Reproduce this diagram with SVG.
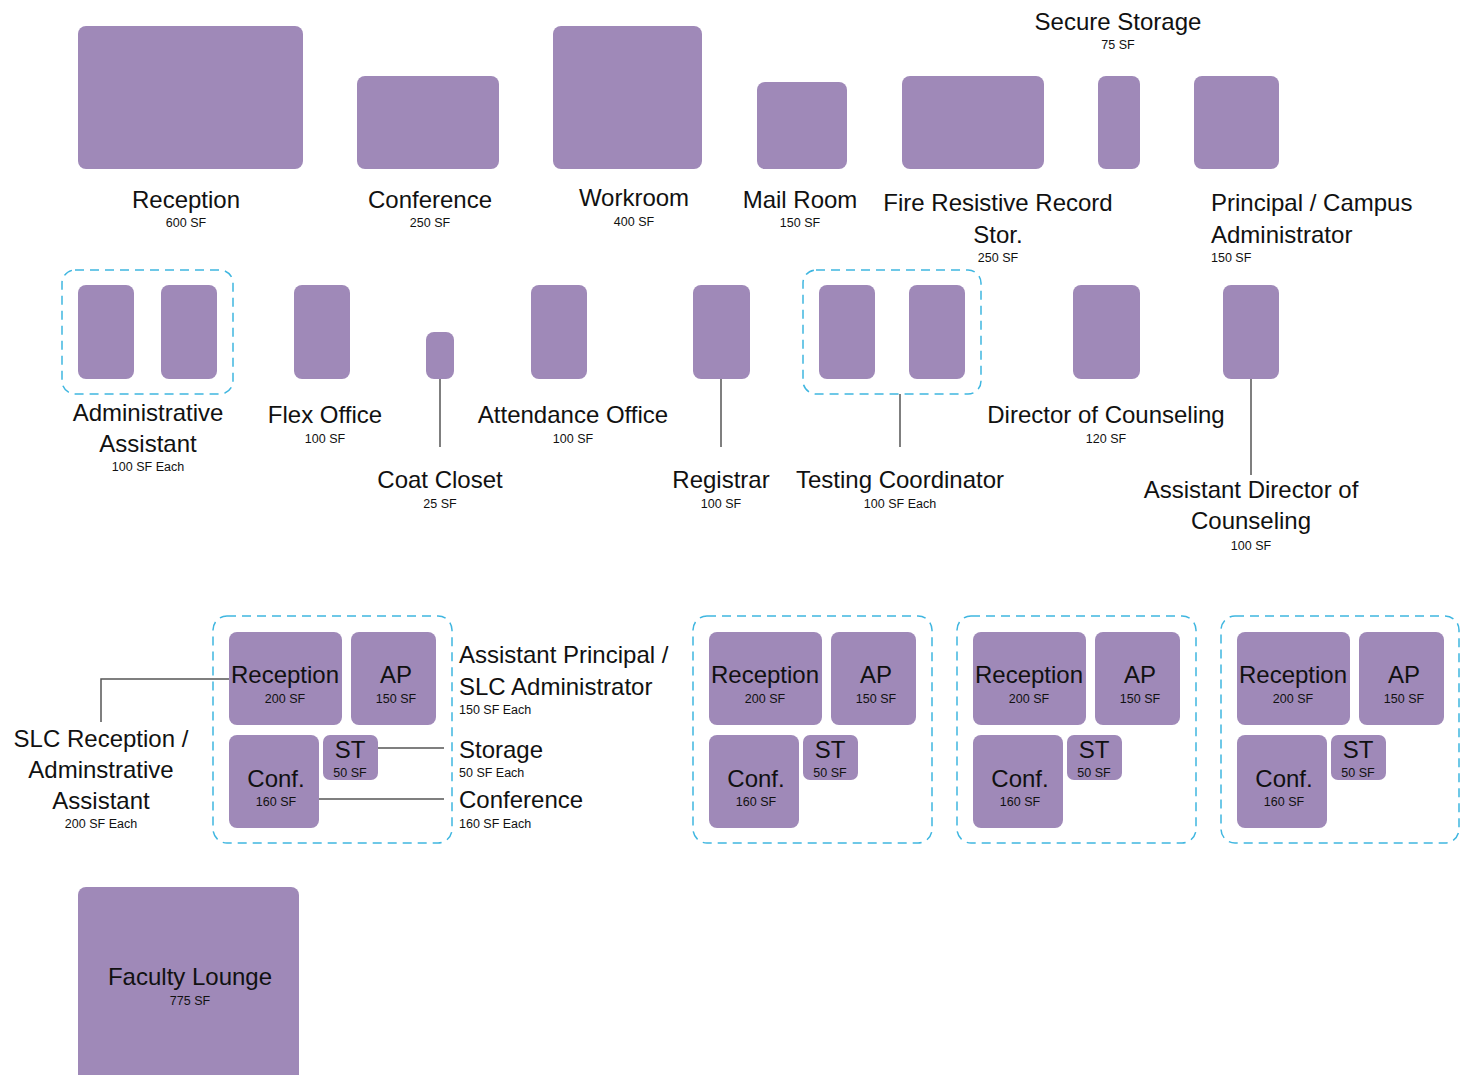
<svg xmlns="http://www.w3.org/2000/svg" width="1460" height="1075" viewBox="0 0 1460 1075">
<style>
.r{fill:#9F89B8;}
.grp{fill:none;stroke:#3FB6E0;stroke-width:1.5;stroke-dasharray:9 6;}
.t{font-family:"Liberation Sans",Arial,sans-serif;font-size:24px;fill:#111;}
.s{font-family:"Liberation Sans",Arial,sans-serif;font-size:12.5px;fill:#111;}
.m{text-anchor:middle;}
.c{fill:none;stroke:#555;stroke-width:1.5;}
</style>
<rect width="1460" height="1075" fill="#fff"/>

<g id="reception">
<rect class="r" x="78" y="26" width="225" height="143" rx="8"/>
<text class="t m" x="186" y="208">Reception</text>
<text class="s m" x="186" y="227">600 SF</text>
</g>
<g id="conference">
<rect class="r" x="357" y="76" width="142" height="93" rx="8"/>
<text class="t m" x="430" y="208">Conference</text>
<text class="s m" x="430" y="227">250 SF</text>
</g>
<g id="workroom">
<rect class="r" x="553" y="26" width="149" height="143" rx="8"/>
<text class="t m" x="634" y="206">Workroom</text>
<text class="s m" x="634" y="226">400 SF</text>
</g>
<g id="mailroom">
<rect class="r" x="757" y="82" width="90" height="87" rx="8"/>
<text class="t m" x="800" y="208">Mail Room</text>
<text class="s m" x="800" y="227">150 SF</text>
</g>
<g id="fire-records">
<rect class="r" x="902" y="76" width="142" height="93" rx="8"/>
<text class="t m" x="998" y="211">Fire Resistive Record</text>
<text class="t m" x="998" y="243">Stor.</text>
<text class="s m" x="998" y="262">250 SF</text>
</g>
<g id="secure-storage">
<rect class="r" x="1098" y="76" width="42" height="93" rx="8"/>
<text class="t m" x="1118" y="30">Secure Storage</text>
<text class="s m" x="1118" y="49">75 SF</text>
</g>
<g id="principal">
<rect class="r" x="1194" y="76" width="85" height="93" rx="8"/>
<text class="t" x="1211" y="211">Principal / Campus</text>
<text class="t" x="1211" y="243">Administrator</text>
<text class="s" x="1211" y="262">150 SF</text>
</g>

<g id="admin-assistant">
<rect class="grp" x="62" y="270" width="171" height="124" rx="13"/>
<rect class="r" x="78" y="285" width="56" height="94" rx="8"/>
<rect class="r" x="161" y="285" width="56" height="94" rx="8"/>
<text class="t m" x="148" y="421">Administrative</text>
<text class="t m" x="148" y="452">Assistant</text>
<text class="s m" x="148" y="471">100 SF Each</text>
</g>
<g id="flex-office">
<rect class="r" x="294" y="285" width="56" height="94" rx="8"/>
<text class="t m" x="325" y="423">Flex Office</text>
<text class="s m" x="325" y="443">100 SF</text>
</g>
<g id="coat-closet">
<rect class="r" x="426" y="332" width="28" height="47" rx="8"/>
<text class="t m" x="440" y="488">Coat Closet</text>
<text class="s m" x="440" y="508">25 SF</text>
</g>
<g id="attendance">
<rect class="r" x="531" y="285" width="56" height="94" rx="8"/>
<text class="t m" x="573" y="423">Attendance Office</text>
<text class="s m" x="573" y="443">100 SF</text>
</g>
<g id="registrar">
<rect class="r" x="693" y="285" width="57" height="94" rx="8"/>
<text class="t m" x="721" y="488">Registrar</text>
<text class="s m" x="721" y="508">100 SF</text>
</g>
<g id="testing">
<rect class="grp" x="803" y="270" width="178" height="124" rx="13"/>
<rect class="r" x="819" y="285" width="56" height="94" rx="8"/>
<rect class="r" x="909" y="285" width="56" height="94" rx="8"/>
<text class="t m" x="900" y="488">Testing Coordinator</text>
<text class="s m" x="900" y="508">100 SF Each</text>
</g>
<g id="director-counseling">
<rect class="r" x="1073" y="285" width="67" height="94" rx="8"/>
<text class="t m" x="1106" y="423">Director of Counseling</text>
<text class="s m" x="1106" y="443">120 SF</text>
</g>
<g id="asst-director">
<rect class="r" x="1223" y="285" width="56" height="94" rx="8"/>
<text class="t m" x="1251" y="498">Assistant Director of</text>
<text class="t m" x="1251" y="529">Counseling</text>
<text class="s m" x="1251" y="550">100 SF</text>
</g>

<g id="slc-1">
<rect class="grp" x="213" y="616" width="239" height="227" rx="14"/>
<rect class="r" x="229" y="632" width="113" height="93" rx="8"/>
<rect class="r" x="351" y="632" width="85" height="93" rx="8"/>
<rect class="r" x="229" y="735" width="90" height="93" rx="8"/>
<rect class="r" x="323" y="735" width="55" height="45" rx="7"/>
<text class="t m" x="285" y="683">Reception</text>
<text class="s m" x="285" y="703">200 SF</text>
<text class="t m" x="396" y="683">AP</text>
<text class="s m" x="396" y="703">150 SF</text>
<text class="t m" x="276" y="787">Conf.</text>
<text class="s m" x="276" y="806">160 SF</text>
<text class="t m" x="350" y="758">ST</text>
<text class="s m" x="350" y="777">50 SF</text>
</g>
<g id="slc-2">
<rect class="grp" x="693" y="616" width="239" height="227" rx="14"/>
<rect class="r" x="709" y="632" width="113" height="93" rx="8"/>
<rect class="r" x="831" y="632" width="85" height="93" rx="8"/>
<rect class="r" x="709" y="735" width="90" height="93" rx="8"/>
<rect class="r" x="803" y="735" width="55" height="45" rx="7"/>
<text class="t m" x="765" y="683">Reception</text>
<text class="s m" x="765" y="703">200 SF</text>
<text class="t m" x="876" y="683">AP</text>
<text class="s m" x="876" y="703">150 SF</text>
<text class="t m" x="756" y="787">Conf.</text>
<text class="s m" x="756" y="806">160 SF</text>
<text class="t m" x="830" y="758">ST</text>
<text class="s m" x="830" y="777">50 SF</text>
</g>
<g id="slc-3">
<rect class="grp" x="957" y="616" width="239" height="227" rx="14"/>
<rect class="r" x="973" y="632" width="113" height="93" rx="8"/>
<rect class="r" x="1095" y="632" width="85" height="93" rx="8"/>
<rect class="r" x="973" y="735" width="90" height="93" rx="8"/>
<rect class="r" x="1067" y="735" width="55" height="45" rx="7"/>
<text class="t m" x="1029" y="683">Reception</text>
<text class="s m" x="1029" y="703">200 SF</text>
<text class="t m" x="1140" y="683">AP</text>
<text class="s m" x="1140" y="703">150 SF</text>
<text class="t m" x="1020" y="787">Conf.</text>
<text class="s m" x="1020" y="806">160 SF</text>
<text class="t m" x="1094" y="758">ST</text>
<text class="s m" x="1094" y="777">50 SF</text>
</g>
<g id="slc-4">
<rect class="grp" x="1221" y="616" width="238" height="227" rx="14"/>
<rect class="r" x="1237" y="632" width="113" height="93" rx="8"/>
<rect class="r" x="1359" y="632" width="85" height="93" rx="8"/>
<rect class="r" x="1237" y="735" width="90" height="93" rx="8"/>
<rect class="r" x="1331" y="735" width="55" height="45" rx="7"/>
<text class="t m" x="1293" y="683">Reception</text>
<text class="s m" x="1293" y="703">200 SF</text>
<text class="t m" x="1404" y="683">AP</text>
<text class="s m" x="1404" y="703">150 SF</text>
<text class="t m" x="1284" y="787">Conf.</text>
<text class="s m" x="1284" y="806">160 SF</text>
<text class="t m" x="1358" y="758">ST</text>
<text class="s m" x="1358" y="777">50 SF</text>
</g>

<g id="slc-reception-label">
<text class="t m" x="101" y="747">SLC Reception /</text>
<text class="t m" x="101" y="778">Adminstrative</text>
<text class="t m" x="101" y="809">Assistant</text>
<text class="s m" x="101" y="828">200 SF Each</text>
</g>
<g id="ap-label">
<text class="t" x="459" y="663">Assistant Principal /</text>
<text class="t" x="459" y="695">SLC Administrator</text>
<text class="s" x="459" y="714">150 SF Each</text>
</g>
<g id="storage-label">
<text class="t" x="459" y="758">Storage</text>
<text class="s" x="459" y="777">50 SF Each</text>
</g>
<g id="conference-label">
<text class="t" x="459" y="808">Conference</text>
<text class="s" x="459" y="828">160 SF Each</text>
</g>

<g id="faculty-lounge">
<rect class="r" x="78" y="887" width="221" height="200" rx="8"/>
<text class="t m" x="190" y="985">Faculty Lounge</text>
<text class="s m" x="190" y="1005">775 SF</text>
</g>

<g id="connectors">
<path class="c" d="M440 379V447"/>
<path class="c" d="M721 379V447"/>
<path class="c" d="M900 394V447"/>
<path class="c" d="M1251 379V475"/>
<path class="c" d="M229 679H101V722"/>
<path class="c" d="M378 748H444"/>
<path class="c" d="M319 799H444"/>
</g>
</svg>
